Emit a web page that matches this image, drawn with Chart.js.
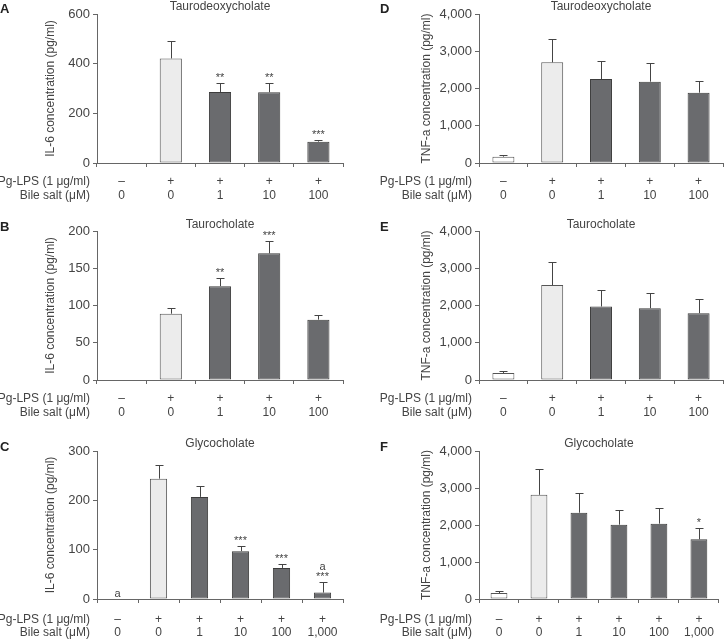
<!DOCTYPE html>
<html>
<head>
<meta charset="utf-8">
<script src="https://cdn.jsdelivr.net/npm/chart.js@4.4.1/dist/chart.umd.min.js"></script>
<style>
  body { margin: 0; background: #fff; }
  .panel { position: absolute; }
</style>
</head>
<body>
<canvas class="panel" id="chartA" width="362" height="215" style="left:0;top:0"></canvas>
<canvas class="panel" id="chartD" width="362" height="215" style="left:362px;top:0"></canvas>
<canvas class="panel" id="chartB" width="362" height="215" style="left:0;top:215px"></canvas>
<canvas class="panel" id="chartE" width="362" height="215" style="left:362px;top:215px"></canvas>
<canvas class="panel" id="chartC" width="362" height="210" style="left:0;top:430px"></canvas>
<canvas class="panel" id="chartF" width="362" height="210" style="left:362px;top:430px"></canvas>
<script>
// treatment rows under each chart
const pgLps5 = ["\u2013", "+", "+", "+", "+"];
const bileSalt5 = ["0", "0", "1", "10", "100"];
const pgLps6 = ["\u2013", "+", "+", "+", "+", "+"];
const bileSalt6 = ["0", "0", "1", "10", "100", "1,000"];

// IL-6 (pg/ml), mean and upper error
const il6Taurodeoxycholate = [0, 421, 286, 285, 86];
const il6TaurodeoxycholateErr = [0, 71, 35, 37, 7];
const il6TaurodeoxycholateSig = [[], [], ["**"], ["**"], ["***"]];

const il6Taurocholate = [0, 89, 126, 170, 81];
const il6TaurocholateErr = [0, 7, 11, 17, 6];
const il6TaurocholateSig = [[], [], ["**"], ["***"], []];

const il6Glycocholate = [0, 244, 207, 97, 63, 13];
const il6GlycocholateErr = [0, 28, 23, 10, 8, 22];
const il6GlycocholateSig = [["a"], [], [], ["***"], ["***"], ["***", "a"]];

// TNF-a (pg/ml)
const tnfTaurodeoxycholate = [170, 2702, 2255, 2183, 1888];
const tnfTaurodeoxycholateErr = [45, 618, 492, 493, 304];

const tnfTaurocholate = [188, 2547, 1973, 1928, 1794];
const tnfTaurocholateErr = [45, 619, 431, 404, 385];

const tnfGlycocholate = [161, 2816, 2332, 2009, 2036, 1614];
const tnfGlycocholateErr = [63, 700, 520, 395, 430, 314];
const tnfGlycocholateSig = [[], [], [], [], [], ["*"]];

const noSig5 = [[], [], [], [], []];

const il6Title = "IL-6 concentration (pg/ml)";
const tnfTitle = "TNF-a concentration (pg/ml)";

const textColor = "#444444";
const axisColor = "#666666";
const fontFamily = "'Liberation Sans', Arial, Helvetica, sans-serif";

// column / row geometry
const leftCol = { padLeft: 43, axisX: 97, right: 343, letterX: 0 };
const rightCol = { padLeft: 57, axisX: 117, right: 361, letterX: 18 };
const row1 = { top: 14, bottom: 163, titleY: 7, letterY: 9, tickPad: 8, lineH: 14 };
const row2 = { top: 16, bottom: 165, titleY: 10, letterY: 12, tickPad: 8, lineH: 14 };
const row3 = { top: 21, bottom: 169, titleY: 14, letterY: 17, tickPad: 10, lineH: 13 };

const barFills = (n) => ["#ffffff", "#ececec"].concat(Array(n - 2).fill("#6a6b6e"));
const barBorders = (n) => ["#555555", "#555555"].concat(Array(n - 2).fill("#3c3c3c"));

const panelText = {
  id: "panelText",
  afterDatasetsDraw(chart, _args, opts) {
    const { ctx, scales: { y } } = chart;
    const meta = chart.getDatasetMeta(0);
    const values = chart.data.datasets[0].data;
    ctx.save();
    meta.data.forEach((bar, i) => {
      const top = values[i] + opts.errors[i];
      const topPx = y.getPixelForValue(top);
      if (opts.errors[i] > 0) {
        ctx.strokeStyle = "#444";
        ctx.lineWidth = 1;
        const x = Math.round(bar.x) + 0.5;
        ctx.beginPath();
        ctx.moveTo(x, bar.y);
        ctx.lineTo(x, Math.round(topPx) + 0.5);
        ctx.moveTo(x - 4, Math.round(topPx) + 0.5);
        ctx.lineTo(x + 4, Math.round(topPx) + 0.5);
        ctx.stroke();
      }
      ctx.fillStyle = textColor;
      ctx.font = "11px " + fontFamily;
      ctx.textAlign = "center";
      ctx.textBaseline = "alphabetic";
      (opts.marks[i] || []).forEach((m, k) => {
        ctx.fillText(m, bar.x, topPx - 2 - k * 10);
      });
    });
    ctx.restore();
  },
  afterDraw(chart, _args, opts) {
    const { ctx, chartArea } = chart;
    ctx.save();
    ctx.fillStyle = textColor;
    ctx.textBaseline = "middle";
    ctx.font = "12px " + fontFamily;
    ctx.textAlign = "center";
    ctx.fillText(opts.title, (chartArea.left + chartArea.right) / 2, opts.row.titleY);
    ctx.textAlign = "right";
    const rowY = chartArea.bottom + 4 + opts.row.tickPad + opts.row.lineH / 2;
    ctx.fillText("Pg-LPS (1 \u03bcg/ml)", chartArea.left - 7, rowY);
    ctx.fillText("Bile salt (\u03bcM)", chartArea.left - 7, rowY + opts.row.lineH);
    ctx.fillStyle = "#222";
    ctx.font = "bold 13px " + fontFamily;
    ctx.textAlign = "left";
    ctx.fillText(opts.letter, opts.col.letterX, opts.row.letterY);
    ctx.restore();
  }
};

function makePanel(id, letter, title, yTitle, pg, salt, values, errors, marks, max, step, col, row) {
  const canvas = document.getElementById(id);
  const labels = pg.map((p, i) => [p, salt[i]]);
  const n = values.length;
  return new Chart(canvas.getContext("2d"), {
    type: "bar",
    data: {
      labels,
      datasets: [{
        data: values,
        backgroundColor: barFills(n),
        borderColor: barBorders(n),
        borderWidth: 1,
        borderSkipped: false,
        categoryPercentage: 1,
        barPercentage: n === 6 ? 0.42 : 0.45,
      }],
    },
    options: {
      responsive: false,
      animation: false,
      events: [],
      layout: {
        padding: { left: col.padLeft, right: canvas.width - col.right, top: row.top, bottom: 0 },
      },
      plugins: {
        legend: { display: false },
        tooltip: { enabled: false },
        panelText: { errors, marks, title, letter, col, row },
      },
      scales: {
        x: {
          afterFit: (scale) => { scale.height = canvas.height - row.bottom; },
          border: { color: axisColor, width: 1 },
          grid: { drawOnChartArea: false, drawTicks: true, tickLength: 4, color: axisColor, offset: true },
          ticks: {
            color: textColor,
            padding: row.tickPad,
            maxRotation: 0,
            autoSkip: false,
            font: { family: fontFamily, size: 12, lineHeight: row.lineH / 12 },
          },
        },
        y: {
          min: 0,
          max,
          afterFit: (scale) => { scale.width = col.axisX - col.padLeft; },
          border: { color: axisColor, width: 1 },
          grid: { drawOnChartArea: false, drawTicks: true, tickLength: 4, color: axisColor },
          ticks: {
            stepSize: step,
            color: textColor,
            padding: 3,
            font: { family: fontFamily, size: 13 },
            callback: (v) => v.toLocaleString("en-US"),
          },
          title: {
            display: true,
            text: yTitle,
            color: textColor,
            padding: { top: 0, bottom: 0 },
            font: { family: fontFamily, size: 12 },
          },
        },
      },
    },
    plugins: [panelText],
  });
}

makePanel("chartA", "A", "Taurodeoxycholate", il6Title, pgLps5, bileSalt5,
  il6Taurodeoxycholate, il6TaurodeoxycholateErr, il6TaurodeoxycholateSig, 600, 200, leftCol, row1);
makePanel("chartD", "D", "Taurodeoxycholate", tnfTitle, pgLps5, bileSalt5,
  tnfTaurodeoxycholate, tnfTaurodeoxycholateErr, noSig5, 4000, 1000, rightCol, row1);
makePanel("chartB", "B", "Taurocholate", il6Title, pgLps5, bileSalt5,
  il6Taurocholate, il6TaurocholateErr, il6TaurocholateSig, 200, 50, leftCol, row2);
makePanel("chartE", "E", "Taurocholate", tnfTitle, pgLps5, bileSalt5,
  tnfTaurocholate, tnfTaurocholateErr, noSig5, 4000, 1000, rightCol, row2);
makePanel("chartC", "C", "Glycocholate", il6Title, pgLps6, bileSalt6,
  il6Glycocholate, il6GlycocholateErr, il6GlycocholateSig, 300, 100, leftCol, row3);
makePanel("chartF", "F", "Glycocholate", tnfTitle, pgLps6, bileSalt6,
  tnfGlycocholate, tnfGlycocholateErr, tnfGlycocholateSig, 4000, 1000, rightCol, row3);
</script>
</body>
</html>
